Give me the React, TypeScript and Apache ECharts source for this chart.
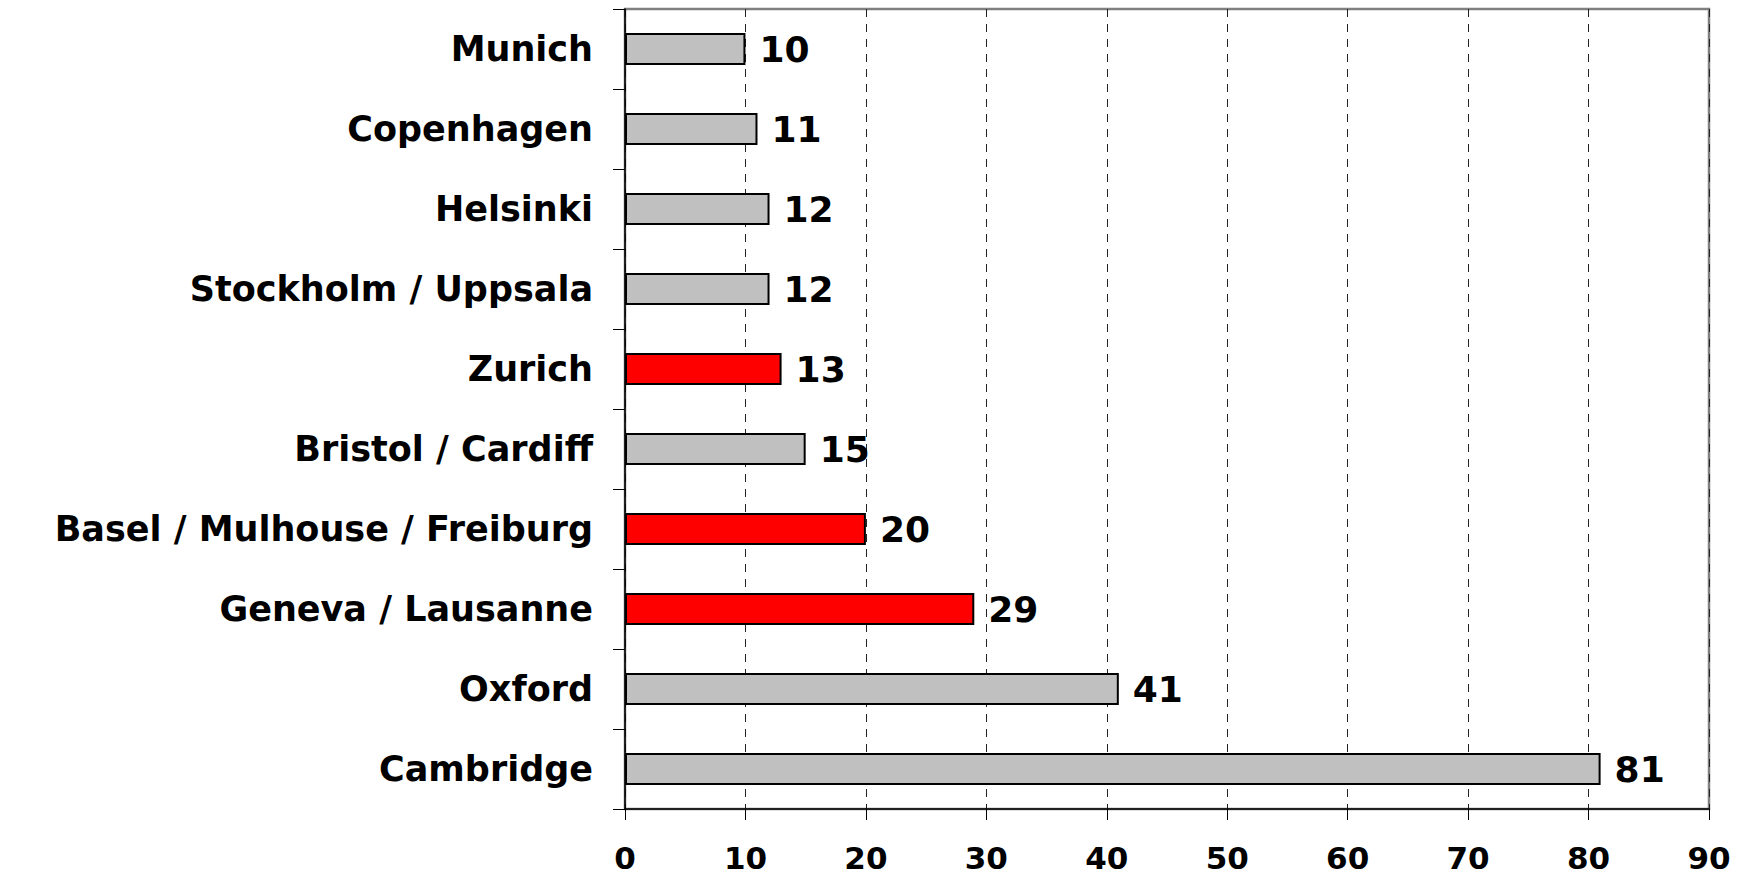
import React, { useEffect, useRef } from "react";
import * as echarts from "echarts";

const categories = [
  "Munich",
  "Copenhagen",
  "Helsinki",
  "Stockholm / Uppsala",
  "Zurich",
  "Bristol / Cardiff",
  "Basel / Mulhouse / Freiburg",
  "Geneva / Lausanne",
  "Oxford",
  "Cambridge",
];
const values = [10, 11, 12, 12, 13, 15, 20, 29, 41, 81];
const highlighted = [false, false, false, false, true, false, true, true, false, false];
const xTicks = { min: 0, max: 90, interval: 10 };

const FONT = "Verdana, 'DejaVu Sans', sans-serif";

export default function App() {
  const ref = useRef<HTMLDivElement>(null);
  useEffect(() => {
    if (!ref.current) return;
    const chart = echarts.init(ref.current, null, { renderer: "svg" });
    chart.setOption({
      animation: false,
      backgroundColor: "#ffffff",
      grid: {
        left: 625,
        top: 9,
        right: 45,
        bottom: 66,
        show: true,
        borderColor: "#808080",
        borderWidth: 2.5,
        backgroundColor: "transparent",
      },
      xAxis: {
        type: "value",
        min: xTicks.min,
        max: xTicks.max,
        interval: xTicks.interval,
        axisLine: { show: true, lineStyle: { color: "#000", width: 1.5 } },
        axisTick: { show: true, inside: false, length: 11, lineStyle: { color: "#000", width: 1 } },
        splitLine: { show: true, lineStyle: { color: "#222", width: 1, type: [8, 7] } },
        axisLabel: {
          margin: 33,
          color: "#000",
          fontFamily: FONT,
          fontWeight: "bold",
          fontSize: 31,
        },
      },
      yAxis: {
        type: "category",
        data: categories,
        inverse: true,
        axisLine: { show: true, lineStyle: { color: "#000", width: 1.5 } },
        axisTick: { show: true, inside: false, length: 12, alignWithLabel: false, lineStyle: { color: "#000", width: 1 } },
        splitLine: { show: false },
        axisLabel: {
          margin: 32,
          color: "#000",
          fontFamily: FONT,
          fontWeight: "bold",
          fontSize: 35,
        },
      },
      series: [
        {
          type: "bar",
          barWidth: 32,
          data: values.map((v, i) => ({
            value: v,
            itemStyle: {
              color: highlighted[i] ? "#FF0000" : "#C0C0C0",
              borderColor: "#000",
              borderWidth: 2,
            },
          })),
          label: {
            show: true,
            position: "right",
            distance: 14,
            color: "#000",
            fontFamily: FONT,
            fontWeight: "bold",
            fontSize: 36,
          },
        },
      ],
    });
    return () => chart.dispose();
  }, []);
  return (
    <div
      ref={ref}
      style={{ position: "fixed", left: 0, top: 0, width: 1754, height: 875, background: "#fff" }}
    />
  );
}
